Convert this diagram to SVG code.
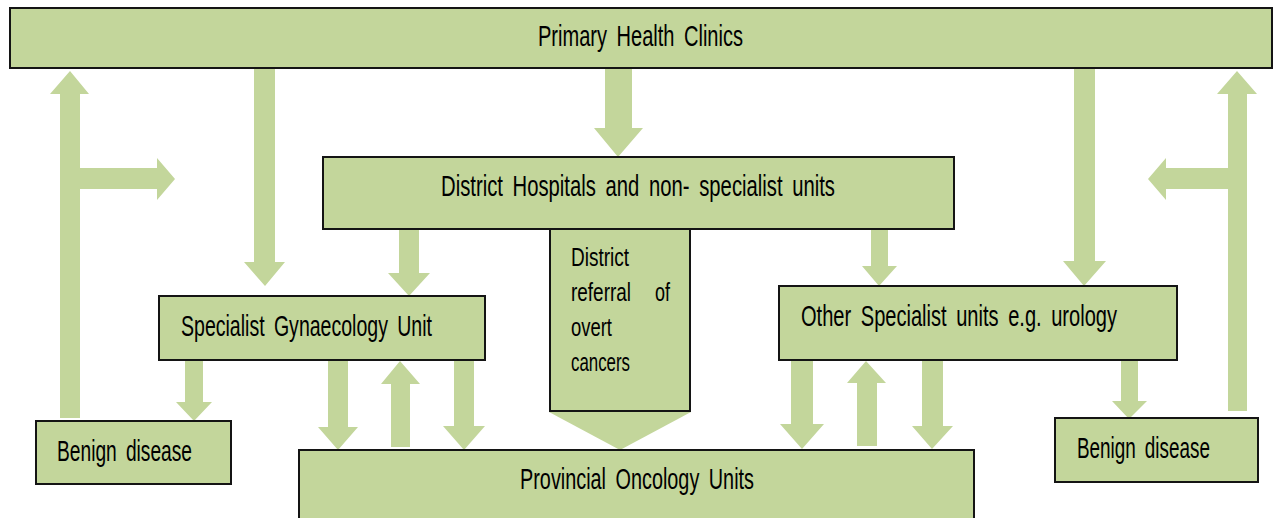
<svg xmlns="http://www.w3.org/2000/svg" width="1274" height="518" viewBox="0 0 1274 518">
  <style>
    .box { fill: #C3D69B; stroke: #141414; stroke-width: 2; }
    .arrow { fill: #C3D69B; stroke: none; }
    .lbl { font-family: "Liberation Sans", Arial, sans-serif; font-size: 30px; fill: #000; word-spacing: 6px; }
    .sm { font-size: 26px; }
  </style>
  <rect width="1274" height="518" fill="#fff"/>
  <g id="connectors">
    <!-- Primary -> Gynaecology -->
    <polygon class="arrow" points="254,69 275,69 275,262 285,262 265,286 244,262 254,262"/>
    <!-- Primary -> District -->
    <polygon class="arrow" points="605,69 632,69 632,128 643,128 618,157 594,128 605,128"/>
    <!-- Primary -> Other specialist -->
    <polygon class="arrow" points="1074,69 1095,69 1095,261 1106,261 1084,286 1063,261 1074,261"/>
    <!-- District -> Gynaecology -->
    <polygon class="arrow" points="399,230 419,230 419,273 430,273 409,296 388,273 399,273"/>
    <!-- District -> Other specialist -->
    <polygon class="arrow" points="871,230 888,230 888,266 897,266 879,286 862,266 871,266"/>
    <!-- Gynaecology -> Benign left -->
    <polygon class="arrow" points="185,361 203,361 203,402 212,402 194,421 176,402 185,402"/>
    <!-- Gynaecology <-> Provincial -->
    <polygon class="arrow" points="328,361 348,361 348,427 358,427 338,450 318,427 328,427"/>
    <polygon class="arrow" points="391,447 410,447 410,384 420,384 400,361 381,384 391,384"/>
    <polygon class="arrow" points="454,361 474,361 474,426 485,426 464,450 443,426 454,426"/>
    <!-- Other specialist <-> Provincial -->
    <polygon class="arrow" points="791,361 813,361 813,424 824,424 802,449 780,424 791,424"/>
    <polygon class="arrow" points="857,446 877,446 877,383 886,383 866,361 847,383 857,383"/>
    <polygon class="arrow" points="922,361 943,361 943,426 953,426 932,449 912,426 922,426"/>
    <!-- Other specialist -> Benign right -->
    <polygon class="arrow" points="1121,361 1138,361 1138,401 1147,401 1129,419 1112,401 1121,401"/>
    <!-- Benign left -> Primary (with branch) -->
    <polygon class="arrow" points="60,418 80,418 80,189 157,189 157,200 175,179 157,158 157,168 80,168 80,94 89,94 70,71 50,94 60,94"/>
    <!-- Benign right -> Primary (with branch) -->
    <polygon class="arrow" points="1247,411 1228,411 1228,189 1166,189 1166,200 1148,179 1166,158 1166,168 1228,168 1228,94 1217,94 1237,71 1257,94 1247,94"/>
  </g>
  <g id="primary">
    <rect class="box" x="10" y="8" width="1262" height="60"/>
    <text class="lbl" x="538" y="46" textLength="205" lengthAdjust="spacingAndGlyphs">Primary Health Clinics</text>
  </g>
  <g id="referral">
    <rect class="box" x="550" y="229" width="140" height="182"/>
    <polygon class="arrow" points="549,412 691,412 620,450"/>
    <text class="lbl sm" x="571" y="266" textLength="58" lengthAdjust="spacingAndGlyphs">District</text>
    <text class="lbl sm" x="571" y="301" textLength="60" lengthAdjust="spacingAndGlyphs">referral</text>
    <text class="lbl sm" x="655" y="301" textLength="15" lengthAdjust="spacingAndGlyphs">of</text>
    <text class="lbl sm" x="571" y="336" textLength="41" lengthAdjust="spacingAndGlyphs">overt</text>
    <text class="lbl sm" x="571" y="371" textLength="59" lengthAdjust="spacingAndGlyphs">cancers</text>
  </g>
  <g id="district">
    <rect class="box" x="323" y="157" width="631" height="72"/>
    <text class="lbl" x="441" y="196" textLength="394" lengthAdjust="spacingAndGlyphs">District Hospitals and non- specialist units</text>
  </g>
  <g id="gynaecology">
    <rect class="box" x="159" y="296" width="326" height="64"/>
    <text class="lbl" x="181" y="336" textLength="251" lengthAdjust="spacingAndGlyphs">Specialist Gynaecology Unit</text>
  </g>
  <g id="other-specialist">
    <rect class="box" x="779" y="286" width="398" height="74"/>
    <text class="lbl" x="801" y="326" textLength="316" lengthAdjust="spacingAndGlyphs">Other Specialist units e.g. urology</text>
  </g>
  <g id="benign-left">
    <rect class="box" x="36" y="421" width="195" height="63"/>
    <text class="lbl" x="57" y="461" textLength="135" lengthAdjust="spacingAndGlyphs">Benign disease</text>
  </g>
  <g id="benign-right">
    <rect class="box" x="1055" y="418" width="203" height="64"/>
    <text class="lbl" transform="translate(1077 458) scale(0.63 1)" x="0" y="0">Benign disease</text>
  </g>
  <g id="provincial">
    <rect class="box" x="299" y="450" width="675" height="74"/>
    <text class="lbl" x="520" y="489" textLength="234" lengthAdjust="spacingAndGlyphs">Provincial Oncology Units</text>
  </g>
</svg>
